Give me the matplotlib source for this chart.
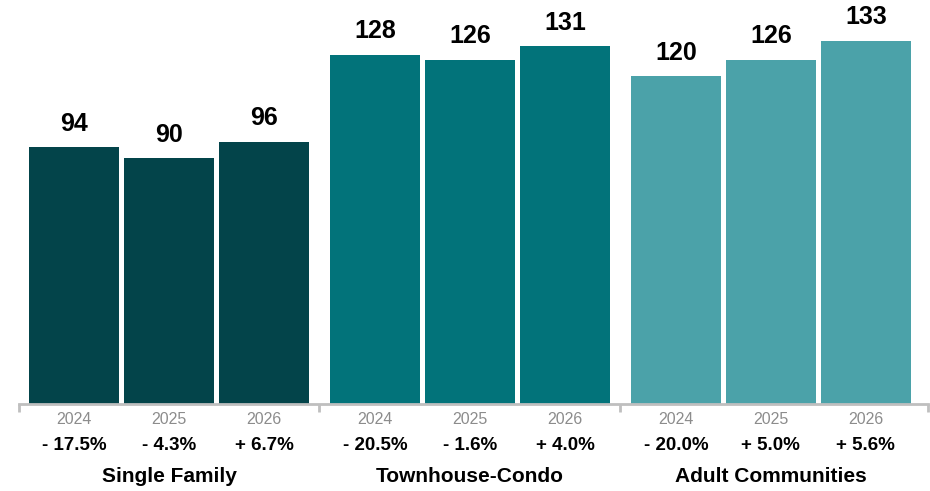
import matplotlib.pyplot as plt
from matplotlib.transforms import blended_transform_factory

# Dati del grafico
categories = ["Single Family", "Townhouse-Condo", "Adult Communities"]
years = ["2024", "2025", "2026"]
values = [[94, 90, 96], [128, 126, 131], [120, 126, 133]]
changes = [["- 17.5%", "- 4.3%", "+ 6.7%"],
           ["- 20.5%", "- 1.6%", "+ 4.0%"],
           ["- 20.0%", "+ 5.0%", "+ 5.6%"]]
colors = ["#03444A", "#02737A", "#4BA2A9"]


def main():
    plt.rcParams['font.family'] = ['Liberation Sans', 'DejaVu Sans']
    fig = plt.figure(figsize=(9.3, 4.91), dpi=100)
    ax = fig.add_axes([0, 0.1772, 1, 0.8228])

    gap = 0.168  # spazio extra tra i gruppi
    width = 0.947
    centers = []
    for g, cat in enumerate(categories):
        xs = [g * 3 + j + g * gap for j in range(3)]
        centers.append(sum(xs) / 3)
        bars = ax.bar(xs, values[g], width=width, color=colors[g])
        for b, v in zip(bars, values[g]):
            ax.annotate(str(v), (b.get_x() + b.get_width() / 2, v),
                        xytext=(0, 8.5), textcoords="offset points",
                        ha="center", va="bottom", fontsize=18,
                        fontweight="bold", color="black")
        trans = blended_transform_factory(ax.transData, fig.transFigure)
        for j, x in enumerate(xs):
            ax.text(x, 1 - 419 / 491, years[j], transform=trans, ha="center",
                    va="center", fontsize=11.5, color="#8c8c8c")
            ax.text(x, 1 - 446 / 491, changes[g][j], transform=trans,
                    ha="center", va="center", fontsize=13.5,
                    fontweight="bold", color="black")
        ax.text(centers[g], 1 - 477 / 491, cat, transform=trans, ha="center",
                va="center", fontsize=15, fontweight="bold", color="black")

    ax.set_xlim(-74 / 95, (930 - 74) / 95)
    ax.set_ylim(0, 148)

    # asse orizzontale con separatori tra i gruppi
    left = -0.579
    right = 8.99
    seps = [left, 2.5 + gap / 2, 5.5 + 1.5 * gap, right]
    ax.spines['bottom'].set_bounds(left, right)
    ax.spines['bottom'].set_color("#bfbfbf")
    ax.spines['bottom'].set_linewidth(2)
    for s in ["top", "left", "right"]:
        ax.spines[s].set_visible(False)
    ax.set_xticks(seps)
    ax.set_xticklabels([])
    ax.tick_params(axis="x", direction="out", length=6, width=2,
                   color="#bfbfbf")
    ax.set_yticks([])

    fig.savefig("out.png", dpi=100)


if __name__ == '__main__':
    main()
